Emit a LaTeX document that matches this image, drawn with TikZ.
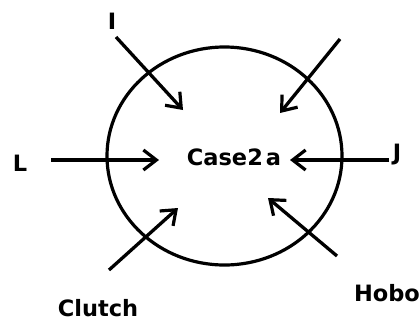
\documentclass[tikz,border=0pt]{standalone}
\usepackage{fontspec}
\setmainfont{DejaVu Sans}
\usetikzlibrary{arrows.meta,shapes.geometric}
\begin{document}
\begin{tikzpicture}[x=1pt,y=-1pt,
  lbl/.style={font=\fontsize{22.5}{26}\selectfont\bfseries, inner sep=0pt, text=black},
  arr/.style={line width=3.3pt, -{Straight Barb[length=13pt,width=20pt,line width=3.2pt]}},
  ring/.style={draw, ellipse, line width=3.2pt, minimum width=235pt, minimum height=218pt, inner sep=0pt}]
\useasboundingbox (0,0) rectangle (420,322);
\node[ring] (c) at (224.5,156) {};
\node[lbl] (case) at (234,157) {Case2\hspace{3pt}a};
\node[lbl] (I) at (112,21) {I};
\node[lbl] (L) at (20,163) {L};
\node[lbl] (J) at (397,155) {J};
\node[lbl] (clutch) at (98,308) {Clutch};
\node[lbl] (hobo) at (387,293) {Hobo};
\coordinate (sI) at (116,37);  \coordinate (tI) at (183,110);
\coordinate (sR) at (340,39);  \coordinate (tR) at (280,113);
\coordinate (sL) at (51,160);  \coordinate (tL) at (159,160);
\coordinate (sJ) at (389,160); \coordinate (tJ) at (290,160);
\coordinate (sC) at (109,270); \coordinate (tC) at (178,208);
\coordinate (sH) at (337,256); \coordinate (tH) at (268,198);
\draw[arr] (sI) -- (tI);
\draw[arr] (sR) -- (tR);
\draw[arr] (sL) -- (tL);
\draw[arr] (sJ) -- (tJ);
\draw[arr] (sC) -- (tC);
\draw[arr] (sH) -- (tH);
\end{tikzpicture}
\end{document}
